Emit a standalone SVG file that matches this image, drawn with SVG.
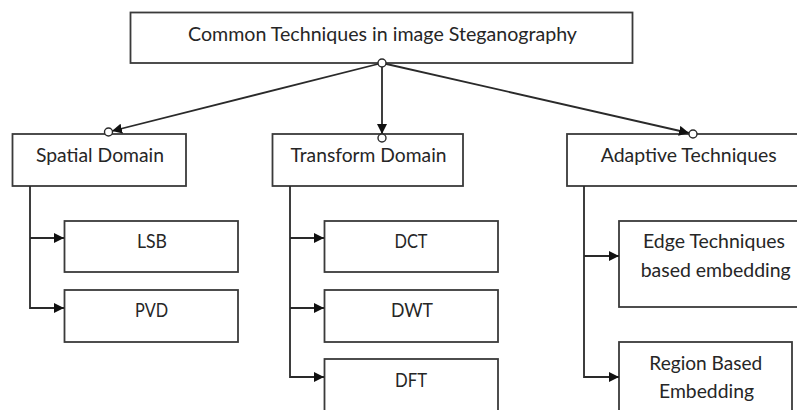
<svg xmlns="http://www.w3.org/2000/svg" width="797" height="410" viewBox="0 0 797 410">
<defs>
<style>
.box{fill:#fff;stroke:#3a3a3a;stroke-width:1.8}
.t{font-family:Lato,"Open Sans","Liberation Sans",sans-serif;font-size:18.5px;fill:#262626;text-anchor:middle}
.c{fill:none;stroke:#2a2a2a;stroke-width:1.8}
.dot{fill:#fff;stroke:#2a2a2a;stroke-width:1.4}
</style>
<marker id="ah" viewBox="0 0 10 10" refX="10" refY="5" markerWidth="10" markerHeight="10" markerUnits="userSpaceOnUse" orient="auto">
<path d="M0,0 L10,5 L0,10 Z" fill="#111"/>
</marker>
</defs>
<rect width="797" height="410" fill="#fff"/>
<g id="root"><rect class="box" x="130.5" y="12.5" width="502" height="50.5"/><text class="t" x="382.5" y="41" textLength="389" lengthAdjust="spacingAndGlyphs">Common Techniques in image Steganography</text></g>
<g id="spatial"><rect class="box" x="12.5" y="134" width="173.5" height="52"/><text class="t" x="100" y="161.5" textLength="128" lengthAdjust="spacingAndGlyphs">Spatial Domain</text></g>
<g id="transform"><rect class="box" x="272.5" y="134" width="190.5" height="52"/><text class="t" x="368.5" y="161.5" textLength="156" lengthAdjust="spacingAndGlyphs">Transform Domain</text></g>
<g id="adaptive"><rect class="box" x="567" y="134" width="245" height="52"/><text class="t" x="688.7" y="161.5" textLength="176" lengthAdjust="spacingAndGlyphs">Adaptive Techniques</text></g>
<g id="lsb"><rect class="box" x="64.5" y="221" width="173.5" height="51"/><text class="t" x="152" y="248" textLength="30" lengthAdjust="spacingAndGlyphs">LSB</text></g>
<g id="pvd"><rect class="box" x="64.5" y="290" width="173.5" height="52"/><text class="t" x="151.5" y="317" textLength="33" lengthAdjust="spacingAndGlyphs">PVD</text></g>
<g id="dct"><rect class="box" x="324.5" y="221" width="173.5" height="51"/><text class="t" x="411" y="248" textLength="33" lengthAdjust="spacingAndGlyphs">DCT</text></g>
<g id="dwt"><rect class="box" x="324.5" y="290" width="173.5" height="52"/><text class="t" x="412" y="317" textLength="42" lengthAdjust="spacingAndGlyphs">DWT</text></g>
<g id="dft"><rect class="box" x="324.5" y="359" width="173.5" height="60"/><text class="t" x="411" y="386.5" textLength="32" lengthAdjust="spacingAndGlyphs">DFT</text></g>
<g id="edge"><rect class="box" x="619" y="221" width="195" height="86"/><text class="t" x="714" y="248.3" textLength="142" lengthAdjust="spacingAndGlyphs">Edge Techniques</text><text class="t" x="715.7" y="276.7" textLength="150" lengthAdjust="spacingAndGlyphs">based embedding</text></g>
<g id="region"><rect class="box" x="619" y="342" width="173" height="80"/><text class="t" x="705.8" y="370" textLength="113" lengthAdjust="spacingAndGlyphs">Region Based</text><text class="t" x="706.5" y="398" textLength="95" lengthAdjust="spacingAndGlyphs">Embedding</text></g>
<g id="connectors">
<line class="c" x1="382" y1="63" x2="112" y2="131" marker-end="url(#ah)"/>
<line class="c" x1="382" y1="63" x2="382" y2="134" marker-end="url(#ah)"/>
<line class="c" x1="382" y1="63" x2="689" y2="133" marker-end="url(#ah)"/>
<circle class="dot" cx="382" cy="63" r="4"/>
<circle class="dot" cx="108.5" cy="132" r="4"/>
<circle class="dot" cx="382" cy="138" r="4"/>
<circle class="dot" cx="693" cy="134" r="4"/>
<path class="c" d="M30,186 V308 H64"/>
<path class="c" d="M30,238 H64"/>
<path class="c" d="M290,186 V377 H324"/>
<path class="c" d="M290,238 H324 M290,308 H324"/>
<path class="c" d="M584,186 V377 H619"/>
<path class="c" d="M584,256 H619"/>
<g fill="#111">
<path d="M64,238 l-10,-5 v10 z"/>
<path d="M64,308 l-10,-5 v10 z"/>
<path d="M324,238 l-10,-5 v10 z"/>
<path d="M324,308 l-10,-5 v10 z"/>
<path d="M324,377 l-10,-5 v10 z"/>
<path d="M619,256 l-10,-5 v10 z"/>
<path d="M619,377 l-10,-5 v10 z"/>
</g>
</g>
</svg>
